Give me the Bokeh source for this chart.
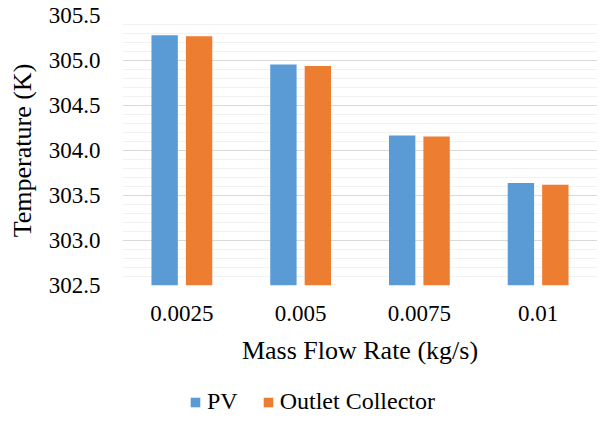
from bokeh.plotting import figure
from bokeh.layouts import column
from bokeh.models import (FactorRange, Range1d, FixedTicker, PrintfTickFormatter,
                          Legend, LegendItem, ColumnDataSource)
from bokeh.transform import dodge
from bokeh.embed import file_html
from bokeh.resources import INLINE

categories = ["0.0025", "0.005", "0.0075", "0.01"]
pv = [305.28, 304.956, 304.167, 303.64]
outlet = [305.27, 304.94, 304.156, 303.62]
y_ticks = [302.5, 303.0, 303.5, 304.0, 304.5, 305.0, 305.5]
y_minor = [round(302.5 + 0.1 * i, 1) for i in range(31)]

FONT = "Liberation Serif"
BLUE = "#5B9BD5"
ORANGE = "#ED7D31"

src = ColumnDataSource(dict(cat=categories, pv=pv, outlet=outlet))

p = figure(x_range=FactorRange(*categories), y_range=Range1d(302.5, 305.5),
           width=597, height=390, output_backend="svg", toolbar_location=None,
           min_border_left=122, min_border_right=0, min_border_top=15,
           min_border_bottom=105)
p.outline_line_color = None
p.background_fill_color = "white"

p.vbar(x=dodge("cat", -0.145, range=p.x_range), top="pv", bottom=302.5,
       width=0.222, source=src, fill_color=BLUE, line_color=None)
p.vbar(x=dodge("cat", 0.145, range=p.x_range), top="outlet", bottom=302.5,
       width=0.222, source=src, fill_color=ORANGE, line_color=None)

p.yaxis.ticker = FixedTicker(ticks=y_ticks, minor_ticks=y_minor)
p.yaxis.formatter = PrintfTickFormatter(format="%.1f")
p.ygrid.grid_line_color = "#d9d9d9"
p.ygrid.grid_line_width = 1
p.ygrid.minor_grid_line_color = "#f2f2f2"
p.ygrid.minor_grid_line_width = 1
p.xgrid.grid_line_color = None

for ax in (p.xaxis, p.yaxis):
    ax.axis_line_color = None
    ax.major_tick_line_color = None
    ax.minor_tick_line_color = None
    ax.major_tick_out = 0
    ax.major_tick_in = 0
    ax.minor_tick_out = 0
    ax.minor_tick_in = 0
    ax.major_label_text_font = FONT
    ax.major_label_text_font_size = "23px"
    ax.major_label_text_color = "black"
    ax.axis_label_text_font = FONT
    ax.axis_label_text_font_style = "normal"
    ax.axis_label_text_color = "black"

p.yaxis.major_label_standoff = 22
p.xaxis.major_label_standoff = 20
p.yaxis.axis_label = "Temperature (K)"
p.xaxis.axis_label = "Mass Flow Rate (kg/s)"
p.yaxis.axis_label_text_font_size = "26px"
p.xaxis.axis_label_text_font_size = "26px"
p.yaxis.axis_label_standoff = 9
p.xaxis.axis_label_standoff = 12

# legend strip below the chart
pl = figure(x_range=p.x_range, y_range=Range1d(0, 1), width=597, height=25,
            output_backend="svg", toolbar_location=None,
            x_axis_type=None, y_axis_type=None,
            min_border_left=122, min_border_right=0,
            min_border_top=0, min_border_bottom=0)
pl.grid.grid_line_color = None
pl.outline_line_color = None
l1 = pl.vbar(x=dodge("cat", -0.145, range=pl.x_range), top="pv", bottom=302.5,
             width=0.222, source=src, fill_color=BLUE, line_color=None)
l2 = pl.vbar(x=dodge("cat", 0.145, range=pl.x_range), top="outlet", bottom=302.5,
             width=0.222, source=src, fill_color=ORANGE, line_color=None)
l1.visible = False
l2.visible = False

legend = Legend(items=[LegendItem(label="PV", renderers=[l1]),
                       LegendItem(label="Outlet Collector", renderers=[l2])],
                orientation="horizontal", location=(67, 0),
                border_line_color=None, background_fill_alpha=0,
                padding=0, margin=0, spacing=24, label_standoff=6,
                glyph_width=12, glyph_height=12,
                label_text_font=FONT, label_text_font_size="24px",
                label_text_color="black")
pl.add_layout(legend, "center")

open("out.html", "w").write(file_html(column(p, pl), INLINE))
